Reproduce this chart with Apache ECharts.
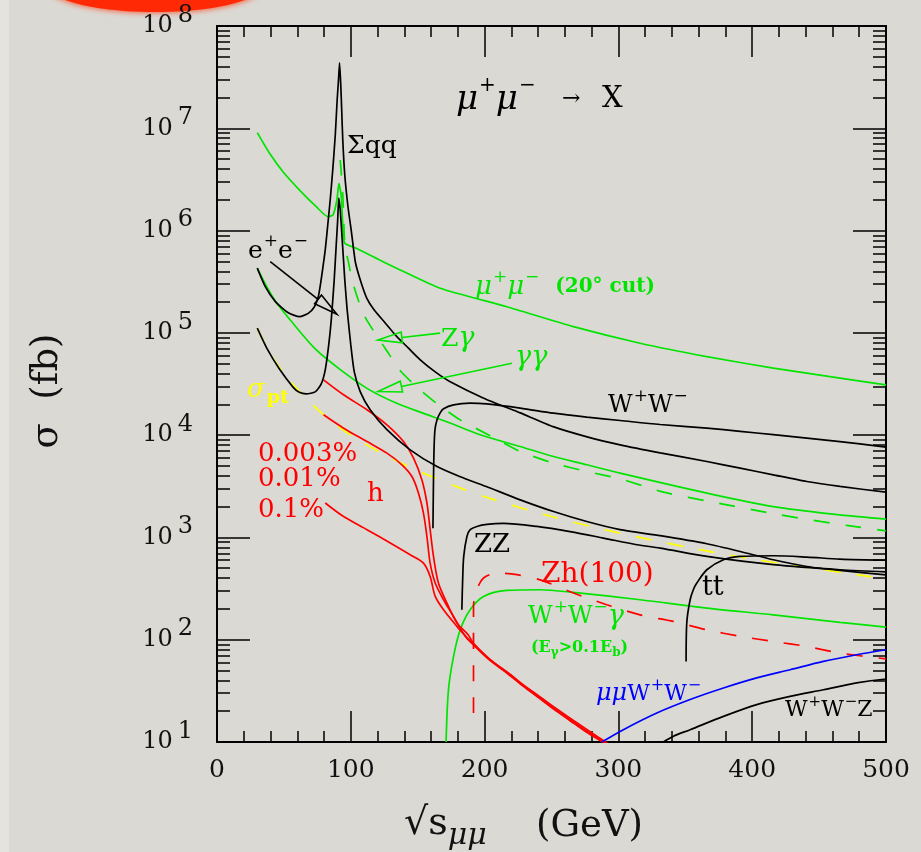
<!DOCTYPE html>
<html>
<head>
<meta charset="utf-8">
<title>μ+μ- → X cross sections</title>
<script src="https://cdn.jsdelivr.net/npm/echarts@6.0.0/dist/echarts.min.js"></script>
<style>
  html, body { margin: 0; padding: 0; background: #dbd9d4; }
  #chart { width: 921px; height: 852px; }
</style>
</head>
<body>
<div id="chart"></div>
<script>
// Cross sections σ (fb) against √s (GeV); every point is [√s, σ].
const sigmaQQ = [[30.1,4.29e5],[36.1,2.83e5],[43.6,2.02e5],[53.0,1.58e5],[61.7,1.44e5],[68.2,1.55e5],[72.7,1.79e5],[75.7,2.25e5],[77.5,3.08e5],[79.4,4.61e5],[80.9,6.47e5],[82.8,1.14e6],[84.6,1.99e6],[86.5,3.91e6],[88.4,8.59e6],[89.8,1.89e7],[90.8,2.96e7],[91.6,4.37e7],[92.5,2.65e7],[93.2,1.51e7],[94.0,7.67e6],[95.5,3.49e6],[97.9,1.71e6],[100.3,1.01e6],[103.4,4.93e5],[107.1,3.29e5],[111.9,2.19e5],[117.5,1.67e5],[125.7,1.25e5],[133.9,9.33e4],[142.9,7.13e4],[151.9,5.45e4],[163.1,4.15e4],[174.3,3.32e4],[198.9,2.31e4],[226.6,1.65e4],[251.2,1.21e4],[276.6,9.62e3],[301.3,8.04e3],[331.2,6.71e3],[366.1,5.52e3],[391.0,4.76e3],[415.8,4.09e3],[440.8,3.52e3],[465.6,3.15e3],[500,2.77e3]];
const sigmaEE = [[30.1,1.11e5],[37.4,7.0e4],[46.8,4.4e4],[56.8,2.95e4],[61.5,2.62e4],[66.7,2.53e4],[73.4,2.65e4],[77.9,3.17e4],[80.9,4.35e4],[83.5,7.62e4],[85.4,1.34e5],[87.6,3.30e5],[89.1,7.23e5],[90.2,1.27e6],[91.0,2.08e6],[92.1,1.59e6],[93.6,8.09e5],[95.5,3.30e5],[97.3,1.67e5],[100.0,7.62e4],[102.6,4.15e4],[107.1,2.65e4],[114.5,1.77e4],[127.0,1.13e4],[144.4,7.18e3],[164.4,4.93e3],[181.8,3.92e3],[201.7,3.13e3],[226.6,2.33e3],[251.5,1.79e3],[276.4,1.43e3],[301.3,1.19e3],[331.2,1.04e3],[366.1,867],[391.0,729],[415.8,605],[440.8,520],[465.6,476],[500,431]];
const muMu20 = [[30.1,9.06e6],[39.3,5.69e6],[49.3,3.76e6],[61.7,2.49e6],[74.2,1.71e6],[82.9,1.37e6],[86.7,1.42e6],[89.6,1.99e6],[91.1,2.90e6],[92.9,2.14e6],[94.1,1.09e6],[95.5,7.51e5],[104.1,6.71e5],[121.5,5.16e5],[136.9,4.12e5],[166.8,2.73e5],[216.6,1.80e5],[266.4,1.15e5],[316.2,7.92e4],[366.1,5.86e4],[415.8,4.52e4],[465.6,3.61e4],[500,3.10e4]];
const gammaGamma = [[30.1,4.29e5],[36.1,3.01e5],[43.6,2.05e5],[56.8,1.24e5],[74.2,6.81e4],[94.1,4.18e4],[114.0,2.77e4],[133.9,2.06e4],[153.9,1.64e4],[171.3,1.36e4],[196.7,1.01e4],[226.6,7.74e3],[251.5,6.18e3],[276.4,5.13e3],[301.3,4.25e3],[366.1,2.71e3],[415.8,2.00e3],[465.6,1.66e3],[500,1.51e3]];
const zGamma = [[92.1,4.90e6],[92.9,3.63e6],[94.1,2.14e6],[94.9,1.09e6],[95.6,6.96e5],[97.9,5.16e5],[101.6,3.05e5],[109.1,1.56e5],[116.5,1.07e5],[126.5,6.81e4],[136.4,4.35e4],[148.9,2.99e4],[163.8,2.06e4],[181.8,1.41e4],[205.4,9.68e3],[226.6,6.92e3],[251.5,5.32e3],[276.4,4.41e3],[301.3,3.74e3],[333.6,2.77e3],[371.0,2.21e3],[420.9,1.66e3],[470.6,1.31e3],[500,1.16e3]];
const sigmaPt = [[30,1.1e5],[40,6.2e4],[50,4.0e4],[60,2.8e4],[70,2.06e4],[80,1.57e4],[90,1.24e4],[100,1.0e4],[120,7.0e3],[140,5.15e3],[160,3.95e3],[180,3.1e3],[200,2.5e3],[250,1.6e3],[300,1.11e3],[350,810],[400,615],[450,490],[489,412]];
const wPairs = [[161.4,1.23e3],[161.8,3.66e3],[162.2,7.18e3],[162.9,1.13e4],[164.4,1.41e4],[166.8,1.65e4],[169.3,1.81e4],[176.8,1.98e4],[189.2,2.06e4],[201.7,2.02e4],[226.6,1.84e4],[251.5,1.64e4],[276.4,1.50e4],[301.3,1.39e4],[331.2,1.27e4],[366.1,1.17e4],[391.0,1.09e4],[415.8,1.01e4],[440.8,9.35e3],[465.6,8.65e3],[500,7.64e3]];
const zPairs = [[183.0,196],[183.6,385],[184.4,652],[186.8,1.02e3],[189.2,1.19e3],[194.2,1.28e3],[201.7,1.34e3],[214.1,1.37e3],[239.1,1.28e3],[263.9,1.14e3],[288.8,986],[313.8,848],[331.2,787],[366.1,652],[415.8,541],[465.6,483],[500,461]];
const topPairs = [[350.6,61.4],[351.1,146],[353.6,246],[356.0,308],[358.6,358],[366.1,483],[378.5,605],[391.0,652],[415.8,662],[440.8,643],[465.6,614],[500,598]];
const wwz = [[333.6,10],[341.1,11.4],[353.6,13.2],[378.5,17.8],[403.4,23.2],[428.3,27.9],[453.2,32.4],[478.0,37.8],[500,41.3]];
const muMuWW = [[287.6,10],[303.7,13.2],[328.7,19.2],[353.6,26.0],[378.5,33.7],[403.4,42.3],[428.3,50.9],[453.2,61.4],[478.0,71.3],[500,79.8]];
const wwGamma = [[171.2,10],[173.0,32.4],[176.8,68.7],[181.8,125],[189.2,196],[199.2,265],[216.6,303],[241.5,308],[266.4,290],[316.2,246],[366.1,204],[415.8,175],[465.6,148],[500,133]];
const zh100 = [[191.7,19.2],[191.7,211],[194.2,308],[199.2,401],[209.2,449],[224.1,432],[241.5,385],[266.4,286],[291.3,220],[316.2,175],[341.1,151],[366.1,125],[391.0,108],[415.8,96],[440.8,86],[465.6,74],[500,65]];
// s-channel Higgs peak for three beam energy spreads R
const hR003 = [[79.6,3.47e4],[94.6,2.48e4],[112.1,1.77e4],[127.0,1.26e4],[139.4,8.65e3],[146.9,5.96e3],[153.1,3.66e3],[156.9,2.17e3],[159.3,1.19e3],[161.8,652],[165.5,358],[171.8,229],[179.3,146],[187.7,112],[191.7,92],[204.2,64],[216.6,48.5],[229.0,36],[241.5,27],[254.0,20.4],[266.4,15.7],[278.9,12.1],[287.6,10.3],[292,9.4]];
const hR01 = [[79.6,1.58e4],[94.6,1.17e4],[112.1,8.65e3],[127.0,6.67e3],[138.2,5.13e3],[145.7,3.94e3],[150.6,2.71e3],[154.3,1.73e3],[156.9,1.02e3],[159.3,561],[163.1,358],[169.3,246],[176.8,169],[185.5,108],[191.7,89],[204.2,62.4],[216.6,47.3],[229.0,35.0],[241.5,26.4],[254.0,19.9],[266.4,15.3],[278.9,11.8],[287.6,10.1],[292,9.2]];
const hR1 = [[80.9,2.17e3],[94.6,1.60e3],[112.1,1.19e3],[129.5,881],[144.4,676],[154.3,561],[159.3,415],[163.1,265],[169.3,196],[179.3,135],[186.8,105],[191.7,90],[204.2,63.5],[216.6,48.5],[229.0,36.2],[241.5,27.6],[254.0,21],[266.4,16.2],[278.9,12.6],[290.5,10],[294,9.3]];
// pointer arrows: [from, to]
const arrowEE = [[39.8,4.97e5],[89.6,1.52e5]];
const arrowZGamma = [[166.8,9.93e4],[120.3,8.5e4]];
const arrowGammaGamma = [[220.4,5.05e4],[120.3,2.67e4]];
// axis ticks
const xTickValues = [0, 100, 200, 300, 400, 500];
const yDecades = [1e1, 1e2, 1e3, 1e4, 1e5, 1e6, 1e7, 1e8];

const yMinor = [];
for (let i = 0; i < yDecades.length - 1; i++) {
  for (let k = 2; k <= 9; k++) yMinor.push(k * yDecades[i]);
}

const SERIF = 'DejaVu Serif';
const GREEN = '#00e400', RED = '#ff0000', BLUE = '#0000ff', YELLOW = '#ffff00', BLACK = '#000000';
const DASH = [16, 16];

function curve(name, data, color, extra) {
  const s = {
    type: 'line', name: name, data: data, symbol: 'none', showSymbol: false,
    smooth: 0.3, clip: true, silent: true, animation: false,
    lineStyle: { color: color, width: 1.7 }, z: 3
  };
  if (extra) {
    if (extra.dash) s.lineStyle.type = extra.dash;
    if (extra.smooth !== undefined) s.smooth = extra.smooth;
    if (extra.z) s.z = extra.z;
  }
  return s;
}

function arrow(name, pts, color) {
  return {
    type: 'custom', name: name, silent: true, animation: false, z: 6,
    data: [[pts[0][0], pts[0][1], pts[1][0], pts[1][1]]],
    encode: { x: [0, 2], y: [1, 3] },
    renderItem: function (params, api) {
      const p0 = api.coord([api.value(0), api.value(1)]);
      const p1 = api.coord([api.value(2), api.value(3)]);
      const dx = p1[0] - p0[0], dy = p1[1] - p0[1];
      const len = Math.sqrt(dx * dx + dy * dy);
      const ux = dx / len, uy = dy / len;
      const hl = 24, hw = 5.5;
      const bx = p1[0] - ux * hl, by = p1[1] - uy * hl;
      return {
        type: 'group',
        children: [
          { type: 'line', shape: { x1: p0[0], y1: p0[1], x2: bx, y2: by },
            style: { stroke: color, lineWidth: 1.6 } },
          { type: 'polygon',
            shape: { points: [[p1[0], p1[1]], [bx - uy * hw, by + ux * hw], [bx + uy * hw, by - ux * hw]] },
            style: { fill: 'none', stroke: color, lineWidth: 1.6 } }
        ]
      };
    }
  };
}

function tok(size, color, o) {
  o = o || {};
  const t = { fontSize: size, fontFamily: SERIF, fill: color, fontStyle: o.italic ? 'italic' : 'normal',
              fontWeight: o.bold ? 'bold' : 'normal' };
  if (o.pad) t.padding = o.pad;
  return t;
}

function label(x, y, text, rich, extra) {
  const el = {
    type: 'text', x: x, y: y, silent: true, z: 20,
    style: { text: text, rich: rich, textAlign: 'left', textVerticalAlign: 'middle',
             fontFamily: SERIF, fontSize: 24, fill: '#000' }
  };
  return Object.assign(el, extra || {});
}

const axisBlack = { color: '#000', width: 2 };
const tickBlack = { color: '#000', width: 1.5 };

function xAxisDef(pos, showLabels) {
  return {
    type: 'value', position: pos, min: 0, max: 500, interval: 100,
    axisLine: { show: true, onZero: false, lineStyle: axisBlack },
    axisTick: { show: true, inside: true, length: 31, lineStyle: tickBlack },
    minorTick: { show: true, splitNumber: 5, length: 11, lineStyle: tickBlack },
    splitLine: { show: false }, minorSplitLine: { show: false },
    axisLabel: showLabels ? {
      show: true, margin: 16, fontSize: 25, fontFamily: SERIF, color: '#111',
      customValues: xTickValues
    } : { show: false }
  };
}

function yAxisDef(pos, major, showLabels) {
  const ax = {
    type: 'log', logBase: 10, position: pos, min: 10, max: 1e8,
    axisLine: { show: major, onZero: false, lineStyle: axisBlack },
    axisTick: { show: true, inside: true, length: major ? 33 : 13, lineStyle: tickBlack,
                customValues: major ? yDecades : yMinor },
    splitLine: { show: false },
    axisLabel: { show: false }
  };
  if (showLabels) {
    ax.axisLabel = {
      show: true, margin: 24, customValues: yDecades,
      formatter: function (v) { return '{b|10}{e|' + Math.round(Math.log10(v)) + '}'; },
      rich: {
        b: { fontSize: 24, fontFamily: SERIF, color: '#111' },
        e: { fontSize: 24, fontFamily: SERIF, color: '#111', padding: [0, 0, 21, 5] }
      }
    };
  }
  return ax;
}

const chart = echarts.init(document.getElementById('chart'), null, { renderer: 'canvas' });

const sup = function (size, color, raise, italic) { return tok(size, color, { pad: [0, 0, raise * 2, 1], italic: italic }); };

const option = {
  backgroundColor: '#dbd9d4',
  animation: false,
  grid: { left: 217, right: 35, top: 26, bottom: 110, containLabel: false, outerBoundsMode: 'none' },
  xAxis: [xAxisDef('bottom', true), xAxisDef('top', false)],
  yAxis: [yAxisDef('left', true, true), yAxisDef('left', false, false),
          yAxisDef('right', true, false), yAxisDef('right', false, false)],
  series: [
    curve('σpt', sigmaPt, YELLOW, { dash: DASH, z: 2 }),
    curve('μ+μ- (20° cut)', muMu20, GREEN, { smooth: 0.2 }),
    curve('γγ', gammaGamma, GREEN),
    curve('Zγ', zGamma, GREEN, { dash: DASH, smooth: 0.2 }),
    curve('W+W-γ', wwGamma, GREEN),
    curve('h 0.003%', hR003, RED, { z: 4 }),
    curve('h 0.01%', hR01, RED, { z: 4 }),
    curve('h 0.1%', hR1, RED, { z: 4 }),
    curve('Zh(100)', zh100, RED, { dash: DASH, z: 4 }),
    curve('μμW+W-', muMuWW, BLUE, { z: 4 }),
    curve('Σqq', sigmaQQ, BLACK, { smooth: 0.2, z: 5 }),
    curve('e+e-', sigmaEE, BLACK, { smooth: 0.2, z: 5 }),
    curve('W+W-', wPairs, BLACK, { z: 5 }),
    curve('ZZ', zPairs, BLACK, { z: 5 }),
    curve('tt', topPairs, BLACK, { z: 5 }),
    curve('W+W-Z', wwz, BLACK, { z: 5 }),
    arrow('e+e- pointer', arrowEE, BLACK),
    arrow('Zγ pointer', arrowZGamma, GREEN),
    arrow('γγ pointer', arrowGammaGamma, GREEN)
  ],
  graphic: [
    // soft red patch at the top edge and the pale strip down the left edge
    { type: 'ellipse', silent: true, z: 0, shape: { cx: 155, cy: -15, rx: 108, ry: 27 },
      style: { fill: '#ff2a05', shadowBlur: 6, shadowColor: '#ff3a10' } },
    { type: 'rect', silent: true, z: 0, shape: { x: 0, y: 0, width: 9, height: 852 },
      style: { fill: '#e4e3e0' } },

    // axis titles
    { type: 'text', x: 47, y: 391, rotation: Math.PI / 2, silent: true, z: 20,
      style: { text: 'σ  (fb)', textAlign: 'center', textVerticalAlign: 'middle',
               fontFamily: SERIF, fontSize: 37, fill: '#111' } },
    label(404, 824, '{n|√s}{u|μμ}', { n: tok(38, '#111'), u: tok(30, '#111', { italic: true, pad: [24, 0, 0, 0] }) }),
    label(536, 826, '{n|(GeV)}', { n: tok(37, '#111') }),

    // process title
    label(456, 100, '{m|μ}{p|+}{m|μ}{p|−}',
      { m: tok(34, BLACK, { italic: true }), p: sup(20, BLACK, 14) }),
    label(562, 99, '{n|→}', { n: tok(22, BLACK) }),
    label(602, 99, '{n|X}', { n: tok(29, BLACK) }),

    // curve labels
    label(347, 146, '{n|Σqq}', { n: tok(25, BLACK) }),
    label(248, 251, '{n|e}{p|+}{n|e}{p|−}', { n: tok(25, BLACK), p: sup(17, BLACK, 9) }),
    label(475, 287, '{m|μ}{p|+}{m|μ}{p|−}{c|(20° cut)}',
      { m: tok(26, GREEN, { italic: true }), p: sup(17, GREEN, 9),
        c: tok(20, GREEN, { bold: true, pad: [0, 0, 0, 16] }) }),
    label(441, 339, '{n|Z}{g|γ}', { n: tok(25, GREEN), g: tok(27, GREEN, { italic: true }) }),
    label(515, 358, '{g|γγ}', { g: tok(27, GREEN, { italic: true }) }),
    label(608, 406, '{n|W}{p|+}{n|W}{p|−}', { n: tok(24, BLACK), p: sup(17, BLACK, 9) }),
    label(247, 390, '{s|σ}{t|pt}', { s: tok(26, YELLOW, { italic: true }),
      t: tok(19, YELLOW, { bold: true, pad: [16, 0, 0, 2] }) }),
    label(258, 454, '{n|0.003%}', { n: tok(26, RED) }),
    label(258, 479, '{n|0.01%}', { n: tok(26, RED) }),
    label(258, 510, '{n|0.1%}', { n: tok(26, RED) }),
    label(367, 494, '{n|h}', { n: tok(26, RED) }),
    label(474, 545, '{n|ZZ}', { n: tok(26, BLACK) }),
    label(541, 575, '{n|Zh(100)}', { n: tok(28, RED) }),
    label(702, 588, '{n|tt}', { n: tok(27, BLACK) }),
    label(528, 617, '{n|W}{p|+}{n|W}{p|−}{g|γ}',
      { n: tok(24, GREEN), p: sup(17, GREEN, 9), g: tok(27, GREEN, { italic: true }) }),
    label(531, 648, '{n|(E}{u|γ}{n|>0.1E}{u|b}{n|)}',
      { n: tok(16, GREEN, { bold: true }), u: tok(12, GREEN, { bold: true, pad: [10, 0, 0, 0] }) }),
    label(596, 694, '{m|μμ}{n|W}{p|+}{n|W}{p|−}',
      { m: tok(24, BLUE, { italic: true }), n: tok(22, BLUE), p: sup(16, BLUE, 8) }),
    label(785, 710, '{n|W}{p|+}{n|W}{p|−}{n|Z}',
      { n: tok(22, BLACK), p: sup(15, BLACK, 8) })
  ]
};

chart.setOption(option);
</script>
</body>
</html>
